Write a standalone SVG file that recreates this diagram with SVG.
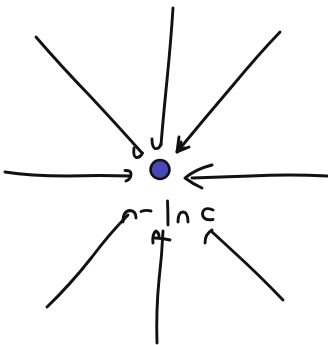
<svg xmlns="http://www.w3.org/2000/svg" width="328" height="345" viewBox="0 0 328 345">
<style>
.s{fill:none;stroke:#111;stroke-width:2.9;stroke-linecap:round;stroke-linejoin:round}
.h{fill:none;stroke:#111;stroke-width:2.9;stroke-linecap:round;stroke-linejoin:round}
</style>
<rect width="328" height="345" fill="#fff"/>
<g id="connectors">
<path class="s" d="M173,8 Q171,40 167,80 Q163,120 161,145"/>
<path class="h" d="M152,139 Q152,147 155,148.5 Q159,149.5 161,144"/>
<path class="s" d="M36,37 Q60,65 90,96 Q118,126 142,153"/>
<path class="h" d="M134,148 Q133,156 136,157.5 Q140,158 142.5,153"/>
<path class="s" d="M280,32 Q258,55 234,84 Q205,118 177,152"/>
<path class="h" d="M179,137 L177,152 L189,147"/>
<path class="h" d="M181,142 L179,150 L185,148"/>
<path class="s" d="M5,172 Q30,176 67,176 Q100,175 130,176"/>
<path class="h" d="M125,170.5 Q131,170 131,174 Q131,179 126,181"/>
<path class="s" d="M327,176 Q290,174 250,176 Q220,177 192,178"/>
<path class="h" d="M212,165 Q196,169 185,178 Q193,184 202,188"/>
<path class="s" d="M47,307 Q70,285 92,257 Q110,233 128,215"/>
<path class="h" d="M123,222 Q123,211 130,210.5 Q136,211 136,218"/>
<path class="h" d="M141,211.5 Q146,209.5 151,211"/>
<path class="h" d="M167.5,201 Q168,212 168,225"/>
<path class="h" d="M178,222 Q178,212 183,212 Q188,212 188,222"/>
<path class="h" d="M213,210 Q203,206 202.5,214 Q203,221 213,219.5"/>
<path class="s" d="M157,343 Q156,310 159,280 Q162,255 163,231"/>
<path class="h" d="M153,243 Q152,234 156,231 Q159,233 159,236"/>
<path class="h" d="M155,238 Q162,238 170,240"/>
<path class="s" d="M283,300 Q258,274 236,254 Q222,241 211,231"/>
<path class="h" d="M205,243 Q205,234 212,230"/>
</g>
<g id="dot">
<circle cx="160" cy="169.5" r="9.5" fill="#4848b4" stroke="#111" stroke-width="2.5"/>
</g>
</svg>
